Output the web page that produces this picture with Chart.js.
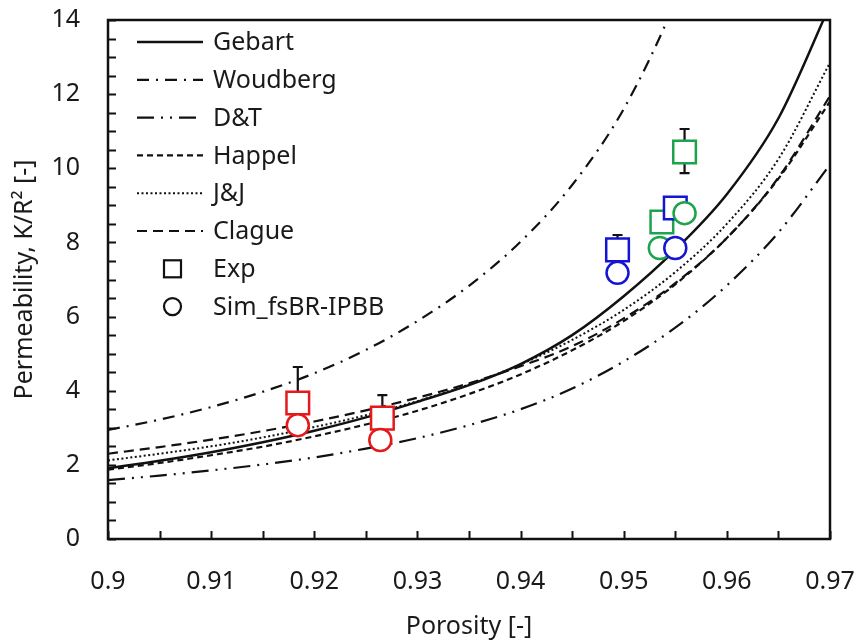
<!DOCTYPE html>
<html>
<head>
<meta charset="utf-8">
<script src="https://cdn.jsdelivr.net/npm/chart.js@4.4.0/dist/chart.umd.min.js"></script>
<style>
    html, body { margin: 0; padding: 0; background: #fff; }
    #wrap { width: 856px; height: 643px; }
</style>
</head>
<body>
<div id="wrap"><canvas id="grafico" width="856" height="643"></canvas></div>
<script>
// porosidade usada nas curvas dos modelos (passo 0.005)
const porosidade = [0.900, 0.905, 0.910, 0.915, 0.920, 0.925, 0.930, 0.935, 0.940, 0.945, 0.950, 0.955, 0.960, 0.965, 0.970];
const gebart     = [1.91, 2.11, 2.34, 2.61, 2.92, 3.28, 3.70, 4.15, 4.72, 5.50, 6.55, 7.80, 9.30, 11.35, 14.4];
const happel     = [1.87, 2.05, 2.26, 2.49, 2.77, 3.09, 3.46, 3.91, 4.44, 5.09, 5.88, 6.87, 8.12, 9.72, 11.8];
const jj         = [2.12, 2.30, 2.50, 2.74, 3.02, 3.34, 3.72, 4.17, 4.71, 5.37, 6.18, 7.20, 8.50, 10.25, 12.85];
const clague     = [2.30, 2.48, 2.68, 2.91, 3.17, 3.47, 3.81, 4.20, 4.66, 5.20, 5.95, 6.90, 8.12, 9.75, 11.95];
const dt         = [1.59, 1.71, 1.85, 2.01, 2.20, 2.44, 2.72, 3.07, 3.50, 4.06, 4.79, 5.70, 6.84, 8.27, 10.1];

// Woudberg sai pelo topo perto de 0.954
const porosidadeWoudberg = [0.900, 0.905, 0.910, 0.915, 0.920, 0.925, 0.930, 0.935, 0.940, 0.945, 0.950, 0.955, 0.960];
const woudberg           = [2.94, 3.22, 3.56, 3.97, 4.47, 5.10, 5.88, 6.83, 8.02, 9.55, 11.6, 14.5, 18.3];

// pontos experimentais e simulados
const expX   = [0.9184, 0.9266, 0.9494, 0.9537, 0.9550, 0.9559];
const expY   = [3.67, 3.26, 7.80, 8.55, 8.93, 10.44];
const expCor = ['#e3191c', '#e3191c', '#1414d2', '#1fa24e', '#1414d2', '#1fa24e'];
const errMin = [3.67, 3.26, 7.80, 8.55, 8.93, 9.87];
const errMax = [4.64, 3.88, 8.20, 8.55, 8.93, 11.06];

const simX   = [0.9184, 0.9264, 0.9494, 0.9535, 0.9550, 0.9559];
const simY   = [3.07, 2.67, 7.18, 7.85, 7.85, 8.79];
const simCor = ['#e3191c', '#e3191c', '#1414d2', '#1fa24e', '#1414d2', '#1fa24e'];

const xTicks = [0.90, 0.91, 0.92, 0.93, 0.94, 0.95, 0.96, 0.97];
const xLabels = ['0.9', '0.91', '0.92', '0.93', '0.94', '0.95', '0.96', '0.97'];
const yTicks = [0, 2, 4, 6, 8, 10, 12, 14];
const yLabels = ['0', '2', '4', '6', '8', '10', '12', '14'];

const legendaNomes = ['Gebart', 'Woudberg', 'D&T', 'Happel', 'J&J', 'Clague', 'Exp', 'Sim_fsBR-IPBB'];

const fonte = '"Noto Sans", "Open Sans", sans-serif';
const corTexto = '#1a1a1a';

function pares(xs, ys) {
    return xs.map((x, i) => ({ x: x, y: ys[i] }));
}

function curva(label, xs, ys, dash, largura) {
    return {
        label: label,
        data: pares(xs, ys),
        showLine: true,
        borderColor: '#111',
        borderWidth: largura,
        borderDash: dash,
        pointRadius: 0,
        cubicInterpolationMode: 'monotone',
        order: 2
    };
}

// barras de erro, desenhadas antes dos marcadores
const barrasErro = {
    id: 'barrasErro',
    beforeDatasetsDraw(chart) {
        const c = chart.ctx, sx = chart.scales.x, sy = chart.scales.y;
        c.save();
        c.strokeStyle = '#111';
        c.lineWidth = 2.2;
        for (let i = 0; i < expX.length; i++) {
            if (errMin[i] == errMax[i]) continue;
            const px = sx.getPixelForValue(expX[i]);
            const y1 = sy.getPixelForValue(errMin[i]);
            const y2 = sy.getPixelForValue(errMax[i]);
            c.beginPath();
            c.moveTo(px, y1); c.lineTo(px, y2);
            c.moveTo(px - 5, y2); c.lineTo(px + 5, y2);
            if (errMin[i] < expY[i]) { c.moveTo(px - 5, y1); c.lineTo(px + 5, y1); }
            c.stroke();
        }
        c.restore();
    }
};

// moldura e ticks para dentro
const moldura = {
    id: 'moldura',
    afterDatasetsDraw(chart) {
        const c = chart.ctx, a = chart.chartArea, sx = chart.scales.x, sy = chart.scales.y;
        c.save();
        c.strokeStyle = '#111';
        c.lineWidth = 2;
        c.beginPath();
        for (let v = sx.min; v <= sx.max + 1e-9; v += 0.005) {
            const px = Math.round(sx.getPixelForValue(v)) + 0.5;
            c.moveTo(px, a.bottom); c.lineTo(px, a.bottom - 8);
        }
        for (let v = sy.min; v <= sy.max + 1e-9; v += 0.5) {
            const py = Math.round(sy.getPixelForValue(v)) + 0.5;
            c.moveTo(a.left, py); c.lineTo(a.left + 8, py);
        }
        c.stroke();
        c.lineWidth = 2.5;
        c.strokeRect(a.left, a.top, a.right - a.left, a.bottom - a.top);
        c.restore();
    }
};

// legenda dentro da area do grafico
const legenda = {
    id: 'legenda',
    afterDraw(chart) {
        const c = chart.ctx, a = chart.chartArea;
        c.save();
        c.font = '25px ' + fonte;
        c.textBaseline = 'middle';
        c.fillStyle = corTexto;
        legendaNomes.forEach((nome, i) => {
            const y = a.top + 22 + i * 37.8;
            const ds = chart.data.datasets.find(d => d.label == nome);
            c.strokeStyle = '#111';
            if (i < 6) {
                c.lineWidth = ds.borderWidth;
                c.setLineDash(ds.borderDash || []);
                c.beginPath();
                c.moveTo(a.left + 29, y); c.lineTo(a.left + 95, y);
                c.stroke();
                c.setLineDash([]);
            } else if (nome == 'Exp') {
                c.lineWidth = 2.2;
                c.strokeRect(a.left + 56, y - 8.5, 17, 17);
            } else {
                c.lineWidth = 2.2;
                c.beginPath();
                c.arc(a.left + 64.5, y, 8.5, 0, Math.PI * 2);
                c.stroke();
            }
            c.fillText(nome, a.left + 105, y + 1);
        });
        c.restore();
    }
};

const ctx = document.getElementById('grafico');
const grafico = new Chart(ctx, {
    type: 'scatter',
    data: {
        datasets: [
            {
                label: 'Sim_fsBR-IPBB',
                data: pares(simX, simY),
                pointStyle: 'circle',
                pointRadius: 11,
                pointBorderWidth: 2.5,
                pointBorderColor: simCor,
                pointBackgroundColor: '#fff',
                showLine: false,
                order: 0
            },
            {
                label: 'Exp',
                data: pares(expX, expY),
                pointStyle: 'rect',
                pointRadius: 16,
                pointBorderWidth: 2.5,
                pointBorderColor: expCor,
                pointBackgroundColor: '#fff',
                showLine: false,
                order: 1
            },
            curva('Gebart', porosidade, gebart, [], 2.5),
            curva('Woudberg', porosidadeWoudberg, woudberg, [12, 7, 2, 7], 2.2),
            curva('D&T', porosidade, dt, [17, 7, 2, 7, 2, 7], 2.2),
            curva('Happel', porosidade, happel, [6, 4], 2.2),
            curva('J&J', porosidade, jj, [2, 2.5], 2),
            curva('Clague', porosidade, clague, [10, 6], 2.2)
        ]
    },
    options: {
        responsive: false,
        devicePixelRatio: 1,
        animation: false,
        layout: { padding: { top: 20, right: 26, left: 0, bottom: 0 } },
        plugins: {
            legend: { display: false },
            tooltip: { enabled: false }
        },
        scales: {
            x: {
                type: 'linear',
                min: 0.9,
                max: 0.97,
                afterFit(s) { s.height = 104; s.paddingLeft = 0; s.paddingRight = 0; },
                afterBuildTicks(s) { s.ticks = xTicks.map(v => ({ value: v })); },
                grid: { display: false, drawTicks: false },
                border: { display: false },
                ticks: {
                    padding: 28,
                    color: corTexto,
                    font: { family: fonte, size: 25 },
                    maxRotation: 0,
                    callback: (v) => xLabels[xTicks.findIndex(t => Math.abs(t - v) < 1e-6)]
                },
                title: {
                    display: true,
                    text: 'Porosity [-]',
                    color: corTexto,
                    font: { family: fonte, size: 25 },
                    padding: { top: 0, bottom: 1 }
                }
            },
            y: {
                type: 'linear',
                min: 0,
                max: 14,
                afterFit(s) { s.width = 108; s.paddingTop = 0; s.paddingBottom = 0; },
                afterBuildTicks(s) { s.ticks = yTicks.map(v => ({ value: v })); },
                grid: { display: false, drawTicks: false },
                border: { display: false },
                ticks: {
                    padding: 28,
                    color: corTexto,
                    font: { family: fonte, size: 25 },
                    callback: (v) => yLabels[yTicks.indexOf(v)]
                },
                title: {
                    display: true,
                    text: 'Permeability, K/R² [-]',
                    color: corTexto,
                    font: { family: fonte, size: 25 },
                    padding: { top: 10, bottom: 0 }
                }
            }
        }
    },
    plugins: [barrasErro, moldura, legenda]
});
</script>
</body>
</html>
